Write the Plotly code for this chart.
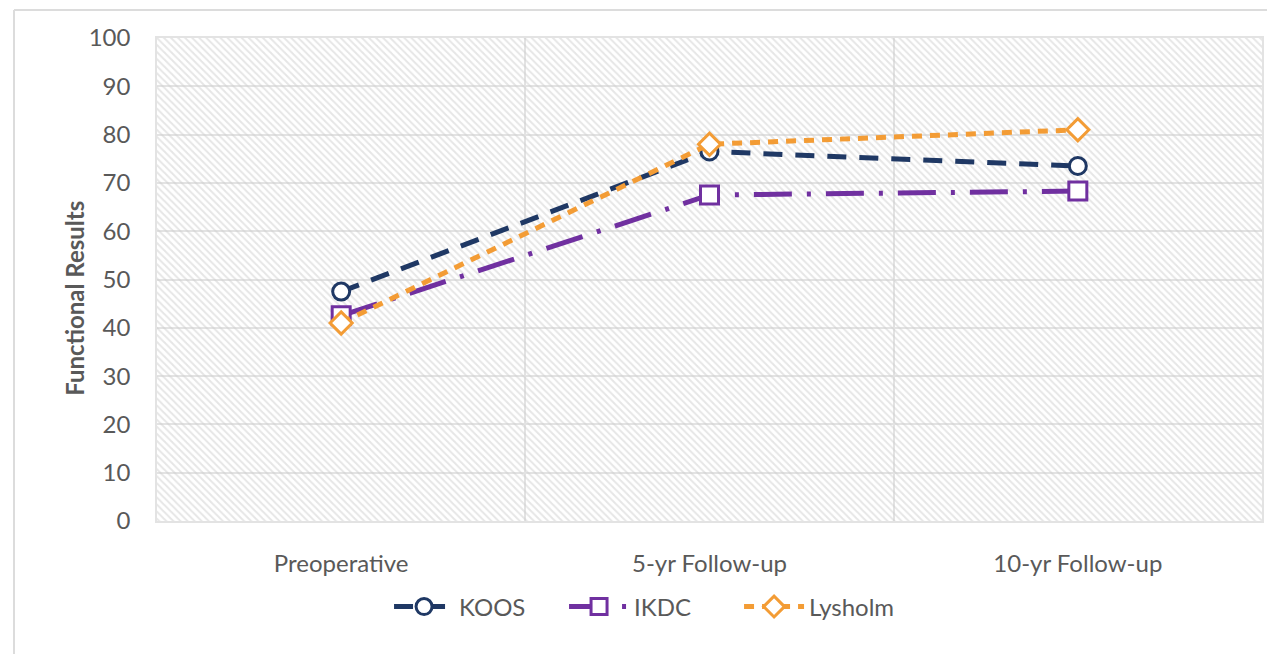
import plotly.graph_objects as go

categories = ["Preoperative", "5-yr Follow-up", "10-yr Follow-up"]
koos = [47.5, 76.5, 73.5]
ikdc = [42.5, 67.5, 68.3]
lysholm = [41.0, 78.0, 81.0]
y_ticks = [0, 10, 20, 30, 40, 50, 60, 70, 80, 90, 100]

FONT = "Lato"
TXT = "#595959"

fig = go.Figure()

# hatched plot-area background on the base (hidden) x axis
fig.add_trace(go.Scatter(
    x=[0, 1, 1, 0, 0], y=[0, 0, 100, 100, 0], xaxis="x", yaxis="y",
    mode="lines", line=dict(width=0), fill="toself",
    fillcolor="rgba(0,0,0,0)",
    fillpattern=dict(shape="\\", size=5, solidity=0.4, fgcolor="#cdcdcd",
                     bgcolor="rgba(0,0,0,0)"),
    hoverinfo="skip", showlegend=False))

fig.add_trace(go.Scatter(
    x=categories, y=koos, name="KOOS", mode="lines+markers", xaxis="x2",
    line=dict(color="#1F3864", width=5, dash="19px,13px"),
    marker=dict(symbol="circle", size=17, color="white",
                line=dict(color="#1F3864", width=3))))
fig.add_trace(go.Scatter(
    x=categories, y=ikdc, name="IKDC", mode="lines+markers", xaxis="x2",
    line=dict(color="#7030A0", width=5, dash="38px,15px,4px,15px"),
    marker=dict(symbol="square", size=18, color="white",
                line=dict(color="#7030A0", width=3))))
fig.add_trace(go.Scatter(
    x=categories, y=lysholm, name="Lysholm", mode="lines+markers", xaxis="x2",
    line=dict(color="#F39C35", width=5, dash="10px,8px"),
    marker=dict(symbol="diamond", size=17, color="white",
                line=dict(color="#F39C35", width=3))))

fig.update_layout(
    width=1267, height=646,
    margin=dict(l=149, r=13, t=30, b=133),
    paper_bgcolor="white", plot_bgcolor="white",
    font=dict(family=FONT, color=TXT, size=24),
    xaxis=dict(range=[0, 1], visible=False, showgrid=False, zeroline=False),
    xaxis2=dict(type="category", overlaying="x", side="bottom",
                range=[-0.5, 2.5], tickson="boundaries",
                showgrid=True, gridcolor="#e3e3e3", gridwidth=1.5,
                ticks="", showline=True, linecolor="#e3e3e3", linewidth=1.5,
                mirror=True, ticklabelstandoff=20,
                tickfont=dict(family=FONT, size=24, color=TXT)),
    yaxis=dict(range=[0, 100], tickvals=y_ticks, showgrid=True,
               gridcolor="#e3e3e3", gridwidth=1.5, zeroline=False,
               showline=True, linecolor="#e3e3e3", linewidth=1.5, mirror=True,
               ticks="", ticklabelstandoff=20,
               tickfont=dict(family=FONT, size=24, color=TXT)),
    legend=dict(orientation="h", x=0.21, xanchor="left", y=-0.178,
                yanchor="middle", font=dict(family=FONT, size=24, color=TXT),
                itemwidth=60, entrywidth=100, entrywidthmode="pixels",
                tracegroupgap=0),
    showlegend=True,
    annotations=[dict(text="<b>Functional Results</b>", textangle=-90,
                      xref="paper", yref="paper", x=-0.0742, y=0.46,
                      xanchor="center", yanchor="middle", showarrow=False,
                      font=dict(family=FONT, size=24, color=TXT))],
    shapes=[
        dict(type="line", xref="paper", yref="paper", x0=-0.1294, x1=1.02,
             y0=1.058, y1=1.058, line=dict(color="#dcdcdc", width=2)),
        dict(type="line", xref="paper", yref="paper", x0=-0.1294, x1=-0.1294,
             y0=1.058, y1=-0.3, line=dict(color="#dcdcdc", width=2)),
    ],
)

fig.write_html("out.html")
